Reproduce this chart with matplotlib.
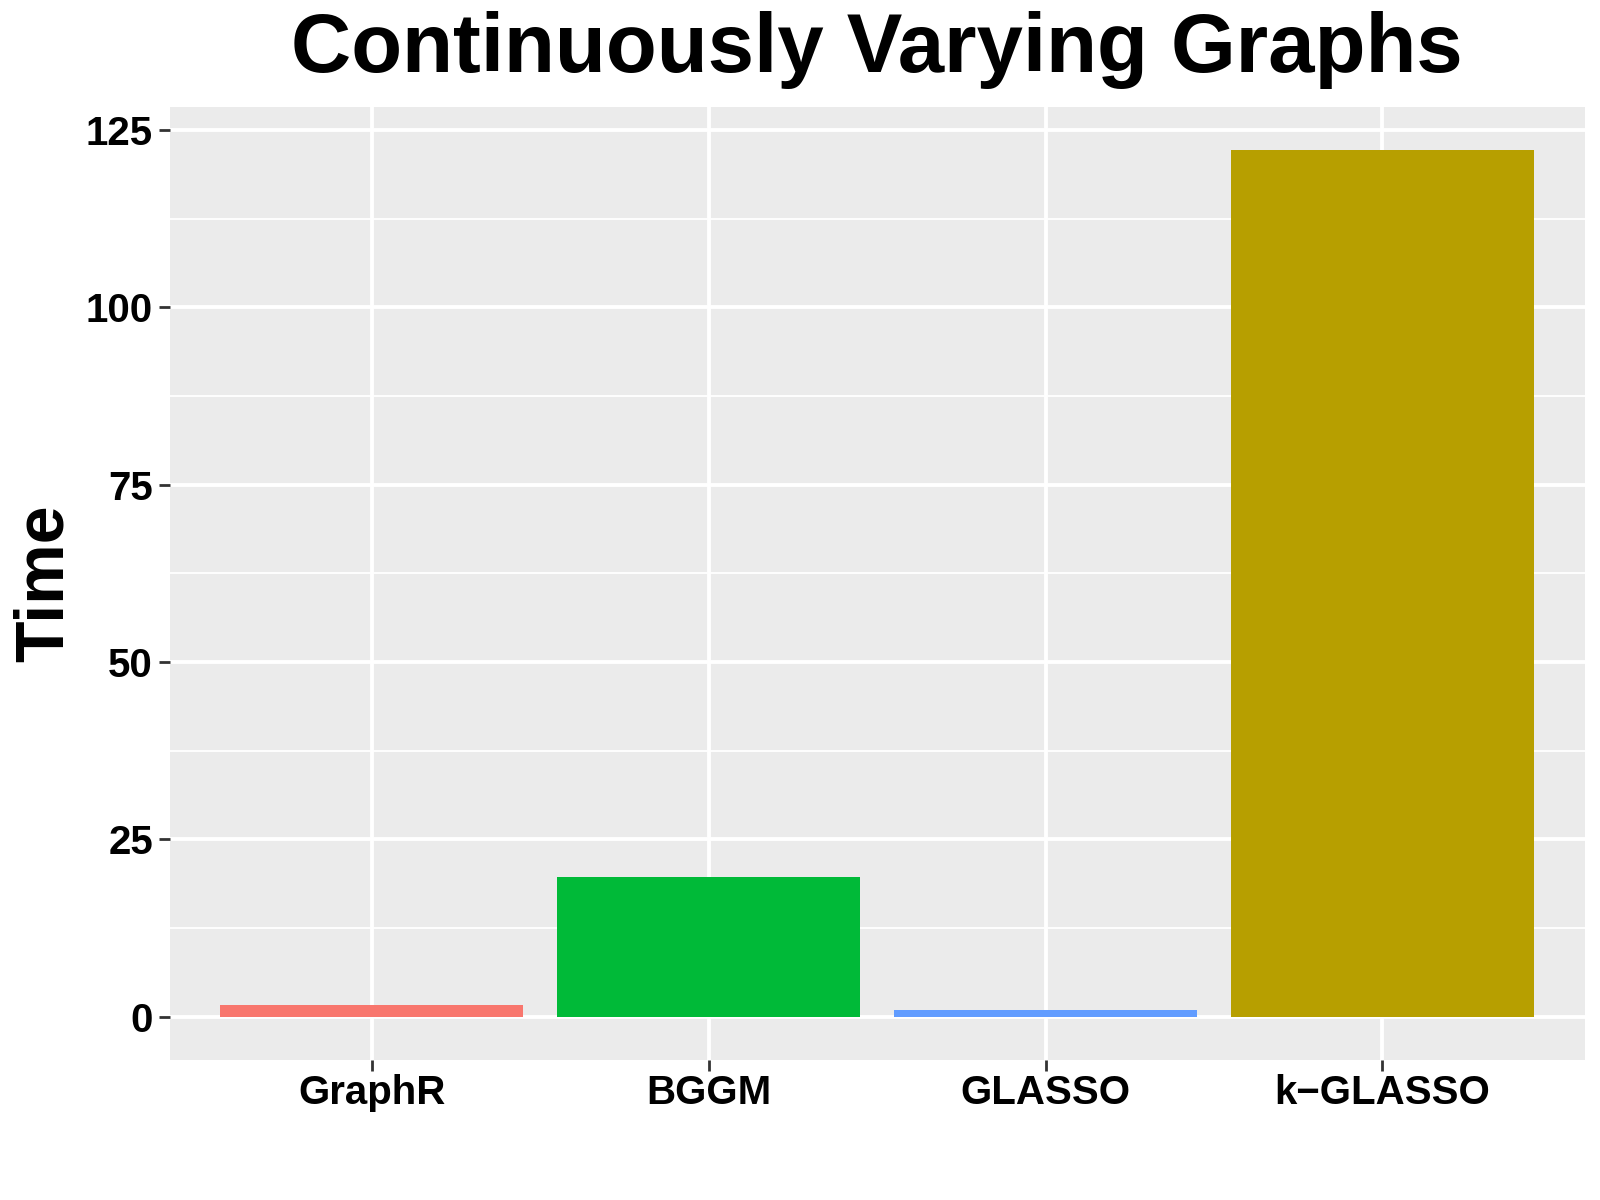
import numpy as np
import matplotlib
matplotlib.use("Agg")
import matplotlib.pyplot as plt
from matplotlib.ticker import MultipleLocator

# 数据
methods = ["GraphR", "BGGM", "GLASSO", "k\u2212GLASSO"]
times = [1.7, 19.7, 1.0, 122.1]
bar_colors = ["#F8766D", "#00BA38", "#619CFF", "#B79F00"]
y_ticks = [0, 25, 50, 75, 100, 125]

plt.rcParams['font.family'] = ['Liberation Sans', 'DejaVu Sans']
plt.rcParams['font.weight'] = 'bold'

fig = plt.figure(figsize=(16, 12), dpi=100)
ax = fig.add_axes([0.106, 0.1167, 0.8844, 0.794])
ax.set_facecolor("#EBEBEB")

x = np.arange(len(methods))
ax.bar(x, times, width=0.9, color=bar_colors, zorder=3)

# ggplot 风格的扩展范围
ymax = max(times)
pad = 0.05 * ymax
ax.set_ylim(-pad, ymax + pad)
ax.set_xlim(-0.6, len(methods) - 0.4)

ax.set_yticks(y_ticks)
ax.yaxis.set_minor_locator(MultipleLocator(12.5))
ax.set_xticks(x)
ax.set_xticklabels(methods)

ax.grid(which="major", color="white", linewidth=2.8, zorder=1)
ax.grid(which="minor", axis="y", color="white", linewidth=1.3, zorder=1)
ax.tick_params(which="minor", length=0)
ax.tick_params(which="major", length=8, width=2, color="#333333",
               labelsize=29, labelcolor="black")
ax.tick_params(axis="x", pad=2)
ax.tick_params(axis="y", pad=4)
for s in ax.spines.values():
    s.set_visible(False)

ax.set_ylabel("Time", fontsize=49, fontweight="bold", va="center")
ax.yaxis.set_label_coords(-0.088, 0.5)
ax.set_title("Continuously Varying Graphs", fontsize=60, fontweight="bold", pad=25)

fig.savefig("out.png", dpi=100)
